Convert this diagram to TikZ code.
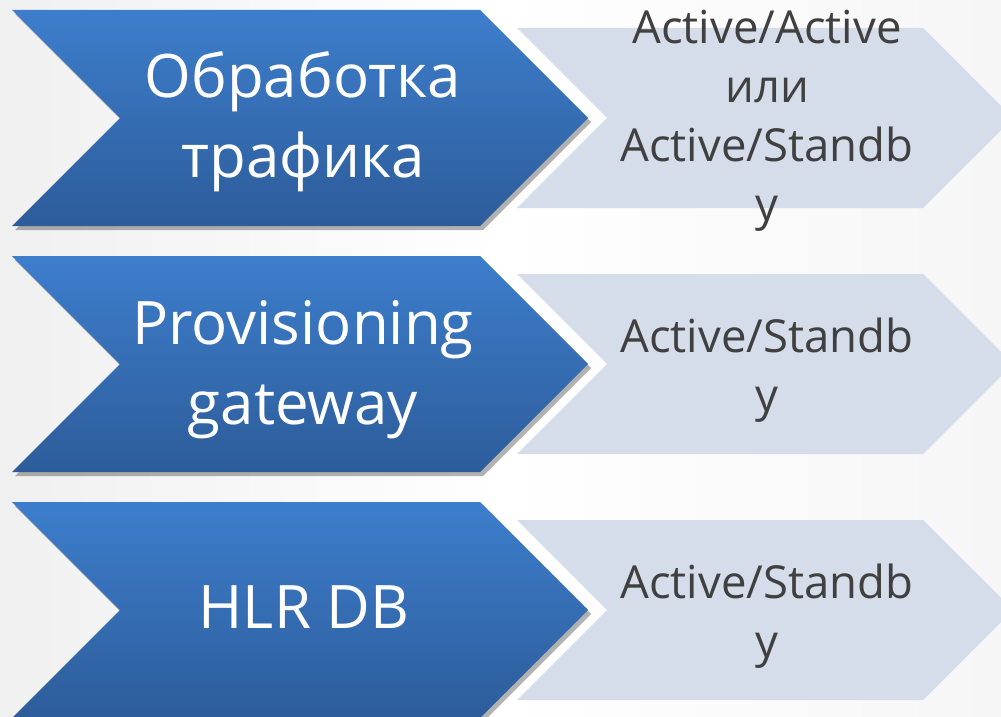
\documentclass[tikz,border=0pt]{standalone}
\usepackage{fontspec}
\setmainfont{Open Sans}
\usetikzlibrary{shadows}
\definecolor{bluetop}{RGB}{61,126,204}
\definecolor{bluebot}{RGB}{45,92,154}
\definecolor{lightfill}{RGB}{213,220,234}
\definecolor{textgray}{RGB}{64,64,64}
\definecolor{bgleft}{RGB}{240,240,240}
\tikzset{
  bluechev/.style={top color=bluetop, bottom color=bluebot, draw=none,
    drop shadow={shadow xshift=3pt, shadow yshift=-4pt, opacity=0.3, fill=black}},
  lightchev/.style={fill=lightfill, draw=none},
  bluetext/.style={text=white, align=center, inner sep=0pt, font=\fontsize{60}{80}\selectfont},
  graytext/.style={text=textgray, align=center, inner sep=0pt, font=\fontsize{45.5}{59}\selectfont},
}
\newcommand{\bluechevron}[1]{%
  \path[bluechev] (12,#1-108) -- (480,#1-108) -- (588,#1) -- (480,#1+108) -- (12,#1+108) -- (120,#1) -- cycle;}
\newcommand{\lightchevron}[1]{%
  \path[lightchev] (517,#1-90) -- (923,#1-90) -- (1013,#1) -- (923,#1+90) -- (517,#1+90) -- (607,#1) -- cycle;}
\begin{document}
\begin{tikzpicture}[x=1pt,y=-1pt]
\useasboundingbox (0,0) rectangle (1001,717);
\clip (0,0) rectangle (1001,717);
\shade[left color=bgleft, right color=white] (0,0) rectangle (500,717);
\shade[left color=white, right color=bgleft!60] (500,0) rectangle (1001,717);
% row 1
\lightchevron{118}
\bluechevron{118}
\node[bluetext] (b1) at (303,122) {Обработка\\трафика};
\node[graytext] (g1) at (767,121) {Active/Active\\или\\Active/Standb\\y};
% row 2
\lightchevron{364}
\bluechevron{364}
\node[bluetext] (b2) at (303,370) {Provisioning\\gateway};
\node[graytext] (g2) at (767,370) {Active/Standb\\y};
% row 3
\lightchevron{610}
\bluechevron{610}
\node[bluetext] (b3) at (304,607) {HLR DB};
\node[graytext] (g3) at (767,616) {Active/Standb\\y};
\end{tikzpicture}
\end{document}
